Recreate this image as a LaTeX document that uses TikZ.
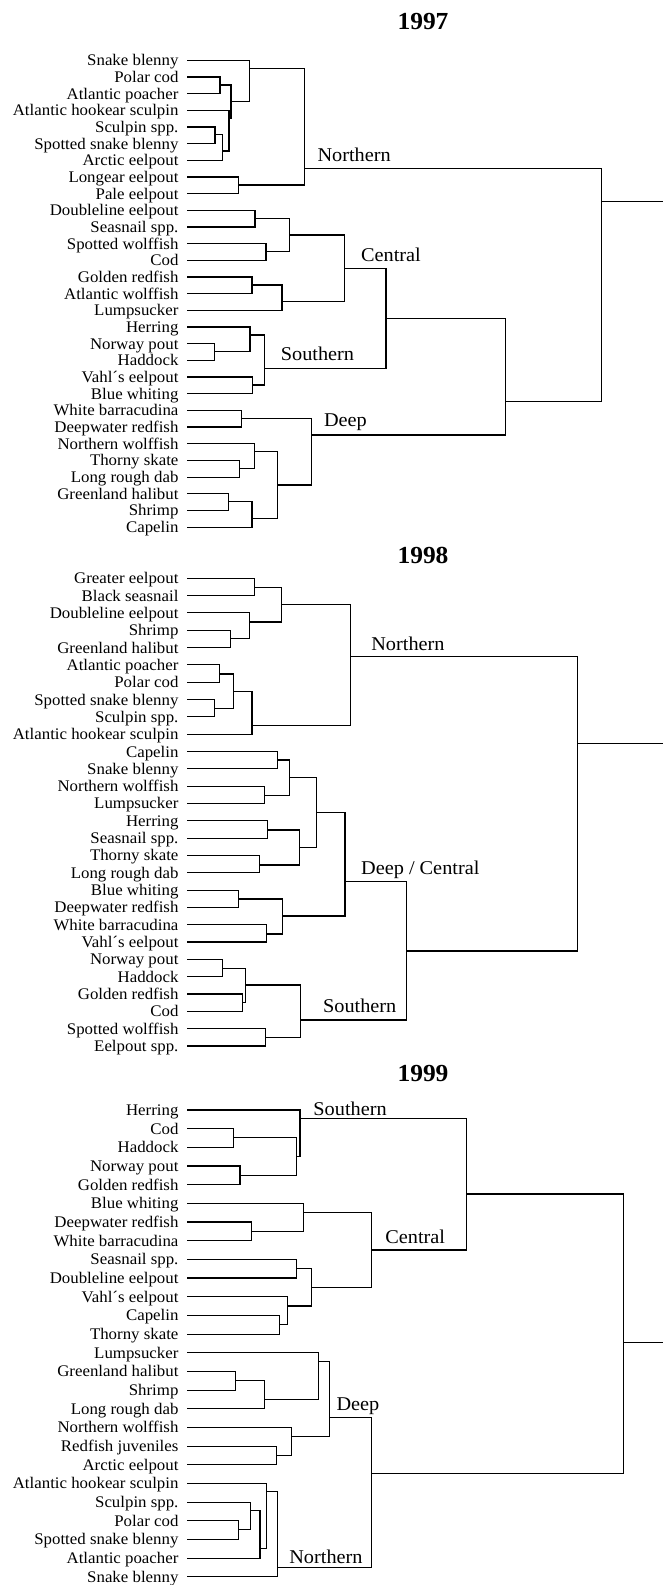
\documentclass[tikz,border=0pt]{standalone}
\usepackage{fontspec}
\setmainfont{Liberation Serif}[FakeStretch=1.04]
\usepackage{tikz}

\begin{document}
\begin{tikzpicture}[x=1pt, y=-1pt, line width=1.1pt,
	lab/.style={font=\fontsize{16.2}{18}\selectfont, anchor=base east, inner sep=0pt},
	grp/.style={font=\fontsize{19.5}{22}\selectfont, anchor=base west, inner sep=0pt},
	yr/.style={font=\fontsize{24.5}{28}\selectfont\bfseries, anchor=base, inner sep=0pt}]
	\useasboundingbox (0,0) rectangle (663,1585);
	% 1997
	\node[yr] (y97) at (423,29.3) {1997};
	\foreach \t [count=\i] in {Snake blenny, Polar cod, Atlantic poacher, Atlantic hookear sculpin, Sculpin spp., Spotted snake blenny, Arctic eelpout, Longear eelpout, Pale eelpout, Doubleline eelpout, Seasnail spp., Spotted wolffish, Cod, Golden redfish, Atlantic wolffish, Lumpsucker, Herring, Norway pout, Haddock, Vahl´s eelpout, Blue whiting, White barracudina, Deepwater redfish, Northern wolffish, Thorny skate, Long rough dab, Greenland halibut, Shrimp, Capelin} {
		\coordinate (a\i) at (187,{60.3+16.67*(\i-1)});
		\node[lab] (ta\i) at ([xshift=-8pt,yshift=-5.5pt]a\i) {\t};
	}
	\foreach \n/\x/\y/\p/\q in {A1/220/85/a2/a3, A2/215/134.4/a5/a6, A3/222.3/151/A2/a7, A4/229/118.3/a4/A3, A5/231/101.7/A1/A4, A6/249.3/68.3/a1/A5, A7/238.3/185/a8/a9, A8/304.3/168.3/A6/A7,
		A9/255/218.3/a10/a11, A10/266/251.7/a12/a13, A11/289.6/235/A9/A10, A12/252/285/a14/a15, A13/282/301.7/A12/a16, A14/344.6/268.3/A11/A13,
		A15/214.8/351.7/a18/a19, A16/250/335/a17/A15, A17/252.8/385/a20/a21, A18/264.3/368.3/A16/A17, A19/386/318.3/A14/A18,
		A20/241.8/418.3/a22/a23, A21/239.3/468.3/a25/a26, A22/254.5/451.7/a24/A21, A23/228.7/501.7/a27/a28, A24/252/518.3/A23/a29, A25/277.8/485/A22/A24, A26/311.6/435/A20/A25,
		A27/505.2/401.7/A19/A26, A28/601.6/201.7/A8/A27} {
		\coordinate (\n) at (\x,\y);
		\draw (\p) -| (\n |- \q) -- (\q);
	}
	\coordinate (ea) at (663,201.7);
	\draw (A28) -- (ea);
	\node[grp] (n97) at (317,161.7) {Northern};
	\node[grp] (c97) at (360.6,261) {Central};
	\node[grp] (s97) at (280.3,360.5) {Southern};
	\node[grp] (d97) at (323.5,426.5) {Deep};
	% 1998
	\node[yr] (y98) at (423,563.3) {1998};
	\foreach \t [count=\i] in {Greater eelpout, Black seasnail, Doubleline eelpout, Shrimp, Greenland halibut, Atlantic poacher, Polar cod, Spotted snake blenny, Sculpin spp., Atlantic hookear sculpin, Capelin, Snake blenny, Northern wolffish, Lumpsucker, Herring, Seasnail spp., Thorny skate, Long rough dab, Blue whiting, Deepwater redfish, White barracudina, Vahl´s eelpout, Norway pout, Haddock, Golden redfish, Cod, Spotted wolffish, Eelpout spp.} {
		\coordinate (b\i) at (187,{578.3+17.32*(\i-1)});
		\node[lab] (tb\i) at ([xshift=-8pt,yshift=-5.5pt]b\i) {\t};
	}
	\foreach \n/\x/\y/\p/\q in {B1/254.5/587.3/b1/b2, B2/230.8/638.7/b4/b5, B3/249.4/622/b3/B2, B4/281.6/604.7/B1/B3, B5/219.9/674/b6/b7, B6/214.8/708.3/b8/b9, B7/233.4/691.7/B5/B6, B8/252/725.7/B7/b10, B9/350.9/656.7/B4/B8,
		B10/277.8/760/b11/b12, B11/264.7/795.7/b13/b14, B12/289.2/777.7/B10/B11, B13/267.6/830/b15/b16, B14/259.2/865/b17/b18, B15/299.3/847.3/B13/B14, B16/316.7/812.7/B12/B15,
		B17/238.9/899/b19/b20, B18/266.8/934/b21/b22, B19/282.9/916/B17/B18, B20/345/881.7/B16/B19,
		B21/222.3/968.3/b23/b24, B22/242.3/1002.7/b25/b26, B23/245.7/985/B21/B22, B24/265.7/1037.7/b27/b28, B25/300.7/1020/B23/B24,
		B26/406.3/951/B20/B25, B27/577.1/743.3/B9/B26} {
		\coordinate (\n) at (\x,\y);
		\draw (\p) -| (\n |- \q) -- (\q);
	}
	\coordinate (eb) at (663,743.3);
	\draw (B27) -- (eb);
	\node[grp] (n98) at (370.8,650.5) {Northern};
	\node[grp] (d98) at (360.6,874.3) {Deep / Central};
	\node[grp] (s98) at (322.6,1012.5) {Southern};
	% 1999
	\node[yr] (y99) at (423,1081.7) {1999};
	\foreach \t [count=\i] in {Herring, Cod, Haddock, Norway pout, Golden redfish, Blue whiting, Deepwater redfish, White barracudina, Seasnail spp., Doubleline eelpout, Vahl´s eelpout, Capelin, Thorny skate, Lumpsucker, Greenland halibut, Shrimp, Long rough dab, Northern wolffish, Redfish juveniles, Arctic eelpout, Atlantic hookear sculpin, Sculpin spp., Polar cod, Spotted snake blenny, Atlantic poacher, Snake blenny} {
		\coordinate (c\i) at (187,{1110+18.67*(\i-1)});
		\node[lab] (tc\i) at ([xshift=-8pt,yshift=-5.5pt]c\i) {\t};
	}
	\foreach \n/\x/\y/\p/\q in {C1/233.3/1137.7/c2/c3, C2/240/1175.7/c4/c5, C3/296.7/1156.7/C1/C2, C4/300/1118.3/c1/C3,
		C5/251.6/1231.3/c7/c8, C6/303.2/1212.7/c6/C5, C7/296.8/1268.7/c9/c10, C8/279.9/1324.3/c12/c13, C9/287.9/1306/c11/C8, C10/311.2/1287.3/C7/C9, C11/371.6/1250/C6/C10,
		C12/466.8/1194/C4/C11,
		C13/235.5/1380.7/c15/c16, C14/264.7/1399.3/C13/c17, C15/318.8/1361.7/c14/C14, C16/276.9/1455.3/c19/c20, C17/291.7/1436.7/c18/C16, C18/329.4/1417.7/C15/C17,
		C19/238.3/1529.3/c23/c24, C20/250.7/1510.7/c22/C19, C21/260/1548.3/C20/c25, C22/266.7/1491.7/c21/C21, C23/277.7/1567.3/C22/c26,
		C24/371.6/1473.3/C18/C23, C25/623.6/1342.7/C12/C24} {
		\coordinate (\n) at (\x,\y);
		\draw (\p) -| (\n |- \q) -- (\q);
	}
	\coordinate (ec) at (663,1342.7);
	\draw (C25) -- (ec);
	\node[grp] (s99) at (312.9,1115) {Southern};
	\node[grp] (c99) at (384.8,1243.3) {Central};
	\node[grp] (d99) at (336,1410.3) {Deep};
	\node[grp] (n99) at (288.8,1563.3) {Northern};
\end{tikzpicture}
\end{document}
